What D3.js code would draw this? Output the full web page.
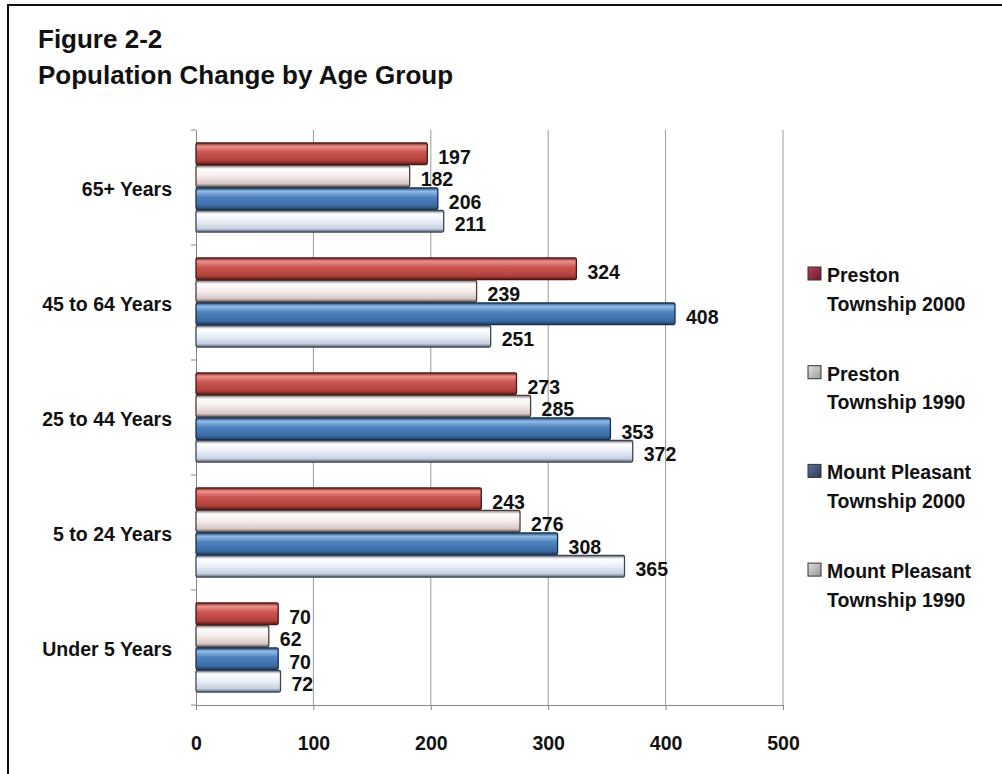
<!DOCTYPE html>
<html>
<head>
<meta charset="utf-8">
<script src="https://d3js.org/d3.v7.min.js"></script>
<style>
  body { margin: 0; background: #fff; }
  svg text { font-family: "Liberation Sans", Arial, sans-serif; font-weight: bold; fill: #111; }
</style>
</head>
<body>
<div id="chart"></div>
<script>
// age groups, top to bottom
var categories = ['65+ Years', '45 to 64 Years', '25 to 44 Years', '5 to 24 Years', 'Under 5 Years']
var seriesNames = ['Preston Township 2000', 'Preston Township 1990', 'Mount Pleasant Township 2000', 'Mount Pleasant Township 1990']
var preston2000 = [197, 324, 273, 243, 70]
var preston1990 = [182, 239, 285, 276, 62]
var mount2000 = [206, 408, 353, 308, 70]
var mount1990 = [211, 251, 372, 365, 72]
var xTicks = [0, 100, 200, 300, 400, 500]
var legendLines = [['Preston', 'Township 2000'], ['Preston', 'Township 1990'], ['Mount Pleasant', 'Township 2000'], ['Mount Pleasant', 'Township 1990']]

var values = [preston2000, preston1990, mount2000, mount1990]

var w = 1002, h = 774
var svg = d3.select('#chart').append('svg')
  .attr('width', w)
  .attr('height', h)

// gradients for the shiny bars
var grads = [
  [['0%', '#7a2624'], ['16%', '#ea928c'], ['42%', '#cd5651'], ['82%', '#b0403b'], ['100%', '#6a1e1c']],
  [['0%', '#857371'], ['16%', '#ffffff'], ['50%', '#f4eceb'], ['84%', '#d8c8c6'], ['100%', '#6a5654']],
  [['0%', '#23507f'], ['16%', '#93bbe4'], ['42%', '#4f83c0'], ['84%', '#3a6aa2'], ['100%', '#1c3a60']],
  [['0%', '#737f92'], ['16%', '#ffffff'], ['50%', '#eaeff7'], ['84%', '#c6d0df'], ['100%', '#56627a']]
]
var swatchGrads = [
  ['#b0405a', '#6e1a30'],
  ['#e4e4e4', '#9a9a9a'],
  ['#5a7399', '#2a3b58'],
  ['#e0e0e0', '#959595']
]
var strokeColors = ['#4a1614', '#4a403f', '#16304d', '#3f4656']

var defs = svg.append('defs')
grads.forEach(function(g, i) {
  var lg = defs.append('linearGradient')
    .attr('id', 'grad' + i)
    .attr('x1', 0).attr('y1', 0).attr('x2', 0).attr('y2', 1)
  g.forEach(function(s) {
    lg.append('stop').attr('offset', s[0]).attr('stop-color', s[1])
  })
})
swatchGrads.forEach(function(g, i) {
  var lg = defs.append('linearGradient')
    .attr('id', 'sw' + i)
    .attr('x1', 0).attr('y1', 0).attr('x2', 1).attr('y2', 1)
  lg.append('stop').attr('offset', '0%').attr('stop-color', g[0])
  lg.append('stop').attr('offset', '100%').attr('stop-color', g[1])
})

// frame
svg.append('path')
  .attr('d', 'M8,' + (h + 2) + 'V5H' + (w + 2))
  .attr('fill', 'none')
  .attr('stroke', '#111')
  .attr('stroke-width', 2)

svg.append('text')
  .attr('x', 38).attr('y', 48)
  .style('font-size', '26px')
  .text('Figure 2-2')
svg.append('text')
  .attr('x', 38).attr('y', 84)
  .style('font-size', '26px')
  .text('Population Change by Age Group')

var plotLeft = 196, plotRight = 783, plotTop = 130, plotBottom = 705

var x = d3.scaleLinear()
  .domain([0, 500])
  .range([plotLeft, plotRight])

var y = d3.scaleBand()
  .domain(categories)
  .range([plotTop, plotBottom])

var inner = d3.scaleBand()
  .domain(d3.range(seriesNames.length))
  .range([12, 103])
  .padding(0.04)

// gridlines
svg.selectAll('.grid')
  .data(xTicks.slice(1))
  .enter().append('line')
  .attr('class', 'grid')
  .attr('x1', function(d) { return x(d) })
  .attr('x2', function(d) { return x(d) })
  .attr('y1', plotTop)
  .attr('y2', plotBottom)
  .attr('stroke', '#9a9a9a')
  .attr('stroke-width', 1)

// x axis
var xAxis = svg.append('g')
  .attr('transform', 'translate(0,' + plotBottom + ')')
  .call(d3.axisBottom(x).tickValues(xTicks).tickSize(5).tickPadding(26))
xAxis.select('.domain').attr('stroke', '#888')
xAxis.selectAll('.tick line').attr('stroke', '#888')
xAxis.selectAll('text').style('font-size', '19.5px').attr('fill', '#111')

// y axis
var yAxis = svg.append('g')
  .attr('transform', 'translate(' + plotLeft + ',0)')
  .call(d3.axisLeft(y).tickSize(0).tickPadding(24))
yAxis.select('.domain').attr('stroke', '#888')
yAxis.selectAll('text').style('font-size', '19.5px').attr('fill', '#111').attr('dy', '0.45em')
yAxis.selectAll('.bound')
  .data(d3.range(categories.length + 1))
  .enter().append('line')
  .attr('x1', -5).attr('x2', 0)
  .attr('y1', function(d) { return plotTop + d * y.step() })
  .attr('y2', function(d) { return plotTop + d * y.step() })
  .attr('stroke', '#888')

// bars
var groups = svg.selectAll('.group')
  .data(categories)
  .enter().append('g')
  .attr('class', 'group')
  .attr('transform', function(d) { return 'translate(0,' + y(d) + ')' })

groups.each(function(cat, ci) {
  var g = d3.select(this)
  var rows = values.map(function(s, si) { return { s: si, v: s[ci] } })

  g.selectAll('rect')
    .data(rows)
    .enter().append('rect')
    .attr('x', x(0))
    .attr('y', function(d) { return inner(d.s) })
    .attr('width', function(d) { return x(d.v) - x(0) })
    .attr('height', inner.bandwidth())
    .attr('rx', 1.5)
    .attr('fill', function(d) { return 'url(#grad' + d.s + ')' })
    .attr('stroke', function(d) { return strokeColors[d.s] })
    .attr('stroke-width', 1.3)

  g.selectAll('.val')
    .data(rows)
    .enter().append('text')
    .attr('class', 'val')
    .attr('x', function(d) { return x(d.v) + 11 })
    .attr('y', function(d) { return inner(d.s) + inner.bandwidth() / 2 + 3 })
    .attr('dy', '0.36em')
    .style('font-size', '19.5px')
    .text(function(d) { return d.v })
})

// legend
var legend = svg.selectAll('.legend')
  .data(legendLines)
  .enter().append('g')
  .attr('class', 'legend')
  .attr('transform', function(d, i) { return 'translate(808,' + (282 + i * 98.7) + ')' })

legend.append('rect')
  .attr('y', -15)
  .attr('width', 13)
  .attr('height', 13)
  .attr('fill', function(d, i) { return 'url(#sw' + i + ')' })
  .attr('stroke', '#333')
  .attr('stroke-width', 1)

legend.each(function(d) {
  var t = d3.select(this).append('text')
    .attr('x', 19)
    .attr('y', 0)
    .style('font-size', '19.5px')
  t.append('tspan').attr('x', 19).text(d[0])
  t.append('tspan').attr('x', 19).attr('dy', 28.5).text(d[1])
})
</script>
</body>
</html>
